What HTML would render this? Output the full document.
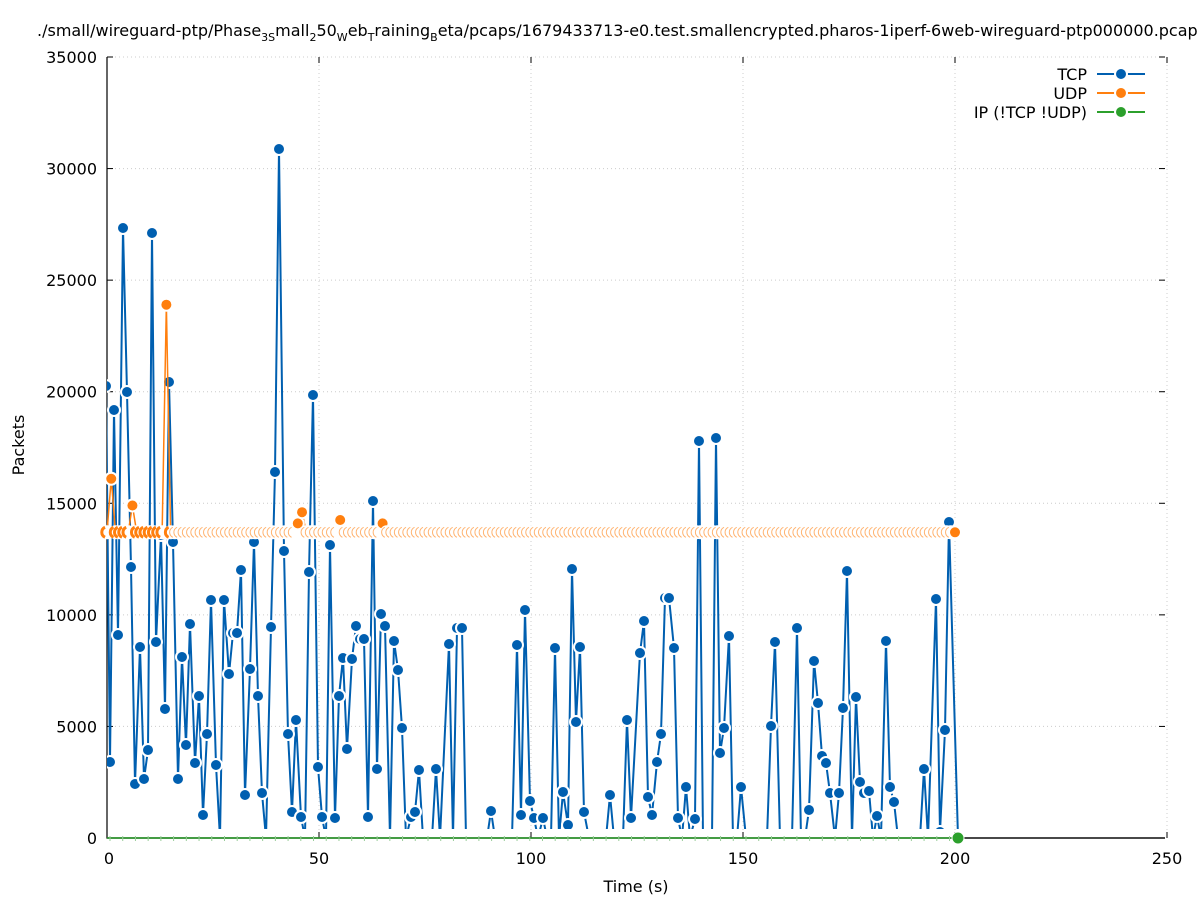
<!DOCTYPE html>
<html><head><meta charset="utf-8"><style>
body{margin:0;background:#fff}
svg text{font-family:"DejaVu Sans","Liberation Sans",sans-serif;font-size:16px;fill:#000}
</style></head><body>
<svg id="s" width="1197" height="900" xmlns="http://www.w3.org/2000/svg">
<defs><clipPath id="c"><rect x="107" y="50" width="1060" height="779"/></clipPath></defs>
<g id="grid"></g>
<text x="37" y="36" font-size="16">./small/wireguard-ptp/Phase<tspan font-size="11" dy="5">3S</tspan><tspan dy="-5">mall</tspan><tspan font-size="11" dy="5">2</tspan><tspan dy="-5">50</tspan><tspan font-size="11" dy="5">W</tspan><tspan dy="-5">eb</tspan><tspan font-size="11" dy="5">T</tspan><tspan dy="-5">raining</tspan><tspan font-size="11" dy="5">B</tspan><tspan dy="-5">eta/pcaps/1679433713-e0.test.smallencrypted.pharos-1iperf-6web-wireguard-ptp000000.pcap</tspan></text>
<g id="axes"></g>
<g id="tcp" clip-path="url(#c)"></g>
<g id="udp"></g>
<g id="ip"></g>
<text x="26" y="447" text-anchor="middle" transform="rotate(-90 24 447)">Packets</text>
<text x="636" y="892" text-anchor="middle">Time (s)</text>
<g id="leg"></g>
</svg>
<script>
const NS="http://www.w3.org/2000/svg";
function el(p,t,a){const e=document.createElementNS(NS,t);for(const k in a)e.setAttribute(k,a[k]);p.appendChild(e);return e;}
const g=id=>document.getElementById(id);
const X=t=>107+4.24*t, Y=v=>838-v*781/35000;
for(let i=0;i<=7;i++){const y=Y(i*5000);
 if(i>0)el(g('grid'),'line',{x1:107,x2:1165,y1:y,y2:y,stroke:'#ccc','stroke-dasharray':'1,3'});
 el(g('axes'),'line',{x1:107,x2:113,y1:y,y2:y,stroke:'#000'});
 el(g('axes'),'line',{x1:1159,x2:1165,y1:y,y2:y,stroke:'#000'});
 const t=el(g('axes'),'text',{x:97,y:y+6,'text-anchor':'end'});t.textContent=i*5000;}
for(let i=0;i<=5;i++){const x=X(i*50);
 if(i>0)el(g('grid'),'line',{x1:x,x2:x,y1:57,y2:838,stroke:'#ccc','stroke-dasharray':'1,3'});
 el(g('axes'),'line',{x1:x,x2:x,y1:838,y2:832,stroke:'#000'});
 el(g('axes'),'line',{x1:x,x2:x,y1:57,y2:63,stroke:'#000'});
 const t=el(g('axes'),'text',{x:x+(i==0?2:0),y:864,'text-anchor':'middle'});t.textContent=i*50;}
el(g('axes'),'path',{d:'M107 57V838H1165',stroke:'#000',fill:'none','stroke-width':1.2});
const P=[106,386,110,762,114,410,118,635,123,228,127,392,131,567,135,784,140,647,144,779,148,750,152,233,156,642,161,535,165,709,169,382,173,542,178,779,182,657,186,745,190,624,195,763,199,696,203,815,207,734,211,600,216,765,220,838,224,600,229,674,233,633,237,633,241,570,245,795,250,669,254,542,258,696,262,793,266,838,271,627,275,472,279,149,284,551,288,734,292,812,296,720,301,817,305,838,309,572,313,395,318,767,322,817,326,838,330,545,335,818,339,696,343,658,347,749,352,659,356,626,360,639,364,639,368,817,373,501,377,769,381,614,385,626,390,838,394,641,398,670,402,728,406,838,411,817,415,812,419,770,423,838,432,838,436,769,440,838,449,644,453,838,457,628,462,628,466,838,487,838,491,811,495,838,512,838,517,645,521,815,525,610,530,801,534,818,538,838,543,818,547,838,551,838,555,648,559,838,563,792,568,825,572,569,576,722,580,647,584,812,589,838,606,838,610,795,614,838,623,838,627,720,631,818,640,653,644,621,648,797,652,815,657,762,661,734,665,598,669,598,674,648,678,818,682,838,686,787,690,838,695,819,699,441,703,838,712,838,716,438,720,753,724,728,729,636,733,838,737,838,741,787,746,838,767,838,771,726,775,642,780,838,792,838,797,628,801,838,805,838,809,810,814,661,818,703,822,756,826,763,830,793,835,838,839,793,843,708,847,571,852,838,856,697,860,782,864,793,869,791,873,838,877,816,881,838,886,641,890,787,894,802,898,838,920,838,924,769,928,838,936,599,940,832,945,730,949,522,958,838];
let d='';for(let i=0;i<P.length;i+=2)d+=(i?'L':'M')+P[i]+' '+P[i+1];
el(g('tcp'),'path',{d,stroke:'#005fb0','stroke-width':2,fill:'none'});
for(let i=0;i<P.length;i+=2){if(P[i+1]>=836)continue;
 el(g('tcp'),'circle',{cx:P[i],cy:P[i+1],r:6,fill:'#005fb0',stroke:'#fff','stroke-width':2});}
// UDP: mostly hidden markers (white with orange sliver)
const U=[];for(let t=0;t<=200;t++)U.push([X(t),Y(13700)]);
const spikes={1:16100,6:14900,14:23900,45:14100,46:14600,55:14250,65:14100};
for(const k in spikes)U[k][1]=Y(spikes[k]);
let du='';U.forEach((p,i)=>du+=(i?'L':'M')+p[0]+' '+p[1]);
el(g('udp'),'path',{d:du,stroke:'#ff7f0e','stroke-width':1.5,fill:'none'});
U.forEach((p,i)=>{
 const full=(i in spikes)||i==200||i<16;
 if(full&&i!=0&&!(i<16&&!(i in spikes)))el(g('udp'),'circle',{cx:p[0],cy:p[1],r:6,fill:'#ff7f0e',stroke:'#fff','stroke-width':2});
 else{
  el(g('udp'),'circle',{cx:p[0],cy:p[1],r:7,fill:'#fff'});
  el(g('udp'),'path',{d:`M${p[0]-2} ${p[1]-5}A5.5 5.5 0 0 0 ${p[0]-2} ${p[1]+5}`,stroke:'#ff7f0e','stroke-width':i<16?3:1,fill:'none',opacity:i<16?1:0.6});
 }});
el(g('udp'),'circle',{cx:X(200),cy:Y(13700),r:6,fill:'#ff7f0e',stroke:'#fff','stroke-width':2});
// IP
el(g('ip'),'line',{x1:107,x2:958,y1:838,y2:838,stroke:'#2ca02c','stroke-width':1.5});
el(g('axes'),'line',{x1:107,x2:1165,y1:838,y2:838,stroke:'#000','stroke-width':1.2});
for(let t=0;t<200;t+=3)el(g('ip'),'line',{x1:X(t)+3,x2:X(t)+3,y1:836,y2:841,stroke:'#9c9','stroke-width':1});
el(g('ip'),'circle',{cx:958,cy:838,r:6,fill:'#2ca02c',stroke:'#fff','stroke-width':1});
[['TCP','#005fb0',74],['UDP','#ff7f0e',93],['IP (!TCP  !UDP)','#2ca02c',112]].forEach(([n,c,y])=>{
 const t=el(g('leg'),'text',{x:1087,y:y+6,'text-anchor':'end','xml:space':'preserve'});t.textContent=n;
 el(g('leg'),'line',{x1:1097,x2:1145,y1:y,y2:y,stroke:c,'stroke-width':2});
 el(g('leg'),'circle',{cx:1121,cy:y,r:6,fill:c,stroke:'#fff','stroke-width':2});});
</script>
</body></html>
